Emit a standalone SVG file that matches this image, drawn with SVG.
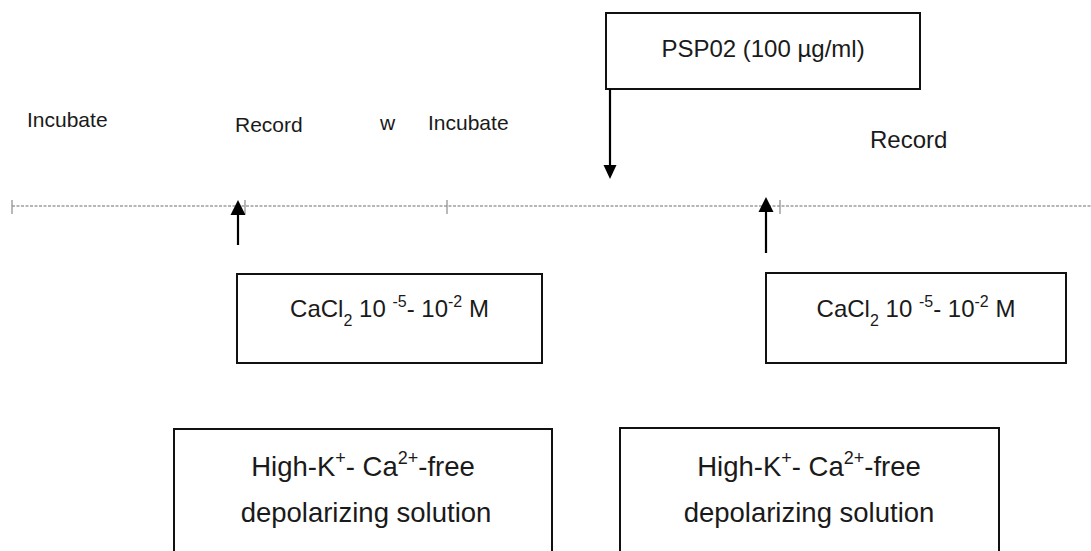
<svg xmlns="http://www.w3.org/2000/svg" width="1091" height="551" viewBox="0 0 1091 551">
<style>
.t{font-family:"Liberation Sans",Arial,sans-serif;fill:#1a1a1a}
.box{fill:#fff;stroke:#111;stroke-width:2}
.dash{stroke:#6e6e6e;stroke-width:1.2;stroke-dasharray:3 1.5;fill:none}
.tick{stroke:#8a8a8a;stroke-width:1.2}
.shaft{stroke:#000;stroke-width:2.2;fill:none}
.head{fill:#000}
</style>
<rect width="1091" height="551" fill="#fff"/>
<g id="timeline">
<line class="dash" x1="12" y1="206" x2="1091" y2="206"/>
<line class="tick" x1="12" y1="200" x2="12" y2="214"/>
<line class="tick" x1="245" y1="200" x2="245" y2="214"/>
<line class="tick" x1="447" y1="200" x2="447" y2="214"/>
<line class="tick" x1="780" y1="200" x2="780" y2="214"/>
</g>
<g id="labels">
<text class="t" x="27" y="127" font-size="21">Incubate</text>
<text class="t" x="235" y="132" font-size="21">Record</text>
<text class="t" x="380" y="130" font-size="21">w</text>
<text class="t" x="428" y="130" font-size="21">Incubate</text>
<text class="t" x="870" y="148" font-size="24">Record</text>
</g>
<g id="psp02">
<rect class="box" x="606" y="13" width="314" height="76"/>
<text class="t" x="763" y="57" font-size="24" text-anchor="middle">PSP02 (100 µg/ml)</text>
</g>
<g id="cacl2-left">
<rect class="box" x="237" y="274" width="305" height="89"/>
<text class="t" x="389.5" y="317" font-size="24" text-anchor="middle">CaCl<tspan font-size="16" dy="9">2</tspan><tspan dy="-9"> 10 </tspan><tspan font-size="16" dy="-10">-5</tspan><tspan dy="10">- 10</tspan><tspan font-size="16" dy="-10">-2</tspan><tspan dy="10"> M</tspan></text>
</g>
<g id="cacl2-right">
<rect class="box" x="766" y="273" width="300" height="90"/>
<text class="t" x="916" y="317" font-size="24" text-anchor="middle">CaCl<tspan font-size="16" dy="9">2</tspan><tspan dy="-9"> 10 </tspan><tspan font-size="16" dy="-10">-5</tspan><tspan dy="10">- 10</tspan><tspan font-size="16" dy="-10">-2</tspan><tspan dy="10"> M</tspan></text>
</g>
<g id="highk-left">
<rect class="box" x="174" y="429" width="378" height="140"/>
<text class="t" x="363" y="476" font-size="27.5" text-anchor="middle">High-K<tspan font-size="18" dy="-12">+</tspan><tspan dy="12">- Ca</tspan><tspan font-size="18" dy="-12">2+</tspan><tspan dy="12">-free</tspan></text>
<text class="t" x="366" y="522" font-size="27.5" text-anchor="middle">depolarizing solution</text>
</g>
<g id="highk-right">
<rect class="box" x="620" y="428" width="379" height="140"/>
<text class="t" x="809" y="476" font-size="27.5" text-anchor="middle">High-K<tspan font-size="18" dy="-12">+</tspan><tspan dy="12">- Ca</tspan><tspan font-size="18" dy="-12">2+</tspan><tspan dy="12">-free</tspan></text>
<text class="t" x="809" y="522" font-size="27.5" text-anchor="middle">depolarizing solution</text>
</g>
<g id="connectors">
<line class="shaft" x1="238" y1="245" x2="238" y2="212"/>
<polygon class="head" points="238,200 230.5,215 245.5,215"/>
<line class="shaft" x1="766" y1="253" x2="766" y2="209"/>
<polygon class="head" points="766,197 758.5,212 773.5,212"/>
<line class="shaft" x1="610" y1="89" x2="610" y2="167"/>
<polygon class="head" points="610,179 603.5,165 616.5,165"/>
</g>
</svg>
